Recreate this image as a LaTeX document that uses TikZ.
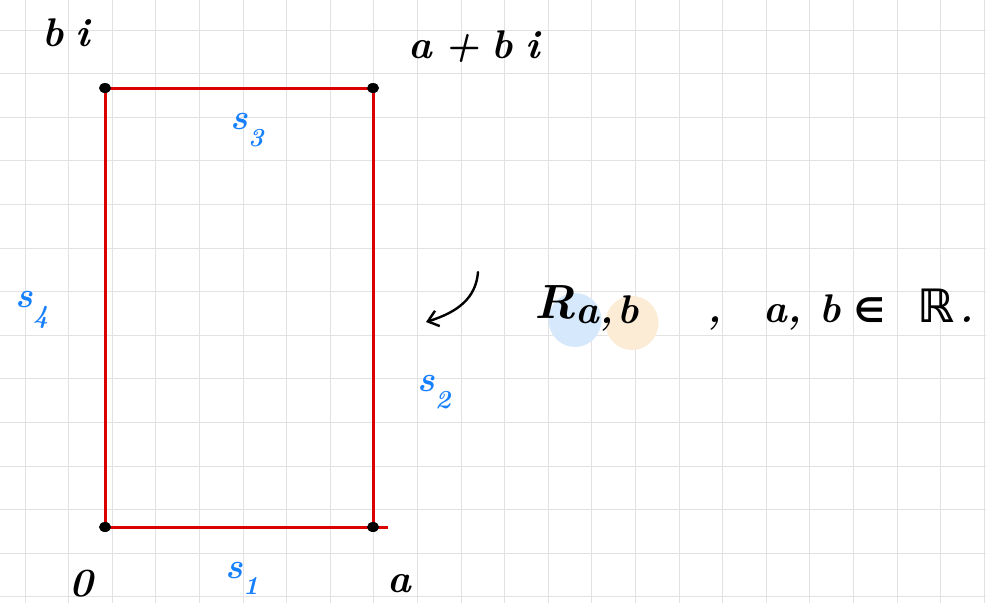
\documentclass[tikz,border=0pt]{standalone}
\usepackage{fontspec}
\newfontfamily\symfont{DejaVu Sans}
\usetikzlibrary{arrows.meta,shapes.geometric}
\definecolor{gridgray}{RGB}{226,226,226}
\definecolor{rectred}{RGB}{218,0,0}
\definecolor{lblblue}{RGB}{22,128,255}
\definecolor{hlblue}{RGB}{214,232,251}
\definecolor{hlorange}{RGB}{252,236,214}
\newcommand{\sbs}[1]{\raisebox{-0.45em}{\fontsize{26}{30}\selectfont #1}}
\tikzset{
  gridline/.style={draw=gridgray, line width=1pt},
  redline/.style={draw=rectred, line width=3pt},
  corner/.style={ellipse, fill=black, minimum width=12pt, minimum height=10pt, inner sep=0pt},
  blacktext/.style={text=black, font=\fontsize{40}{46}\selectfont\bfseries\itshape, inner sep=0pt},
  bluetext/.style={text=lblblue, font=\fontsize{36}{42}\selectfont\bfseries\itshape, inner sep=0pt},
  hl/.style={draw=none, ellipse, minimum width=53pt, minimum height=54pt, inner sep=0pt},
}
\begin{document}
\begin{tikzpicture}[x=1pt,y=-1pt]
\useasboundingbox (0,0) rectangle (986,603);
\fill[white] (0,0) rectangle (986,603);
\foreach \i in {0,...,22} \draw[gridline] ({25+43.6*\i},0) -- ({25+43.6*\i},603);
\foreach \j in {0,...,13} \draw[gridline] (0,{30+43.6*\j}) -- (986,{30+43.6*\j});

% highlights
\node[hl, fill=hlblue] (hlb) at (575,320) {};
\node[hl, fill=hlorange] (hlo) at (632,323) {};

% rectangle
\coordinate (O) at (105,527);
\coordinate (A) at (373,527);
\coordinate (C) at (373,88);
\coordinate (B) at (105,88);
\coordinate (Aext) at (388,527);
\draw[redline] (B) -- (O) -- (Aext);
\draw[redline] (A) -- (C) -- (B);
\node[corner] (dO) at (O) {};
\node[corner] (dA) at (A) {};
\node[corner] (dC) at (C) {};
\node[corner] (dB) at (B) {};

% corner labels
\node[blacktext] (lB) at (66,33) {b\hspace{0.3em}i};
\node[blacktext] (lC) at (474,47) {a\hspace{0.3em}+\hspace{0.3em}b\hspace{0.3em}i};
\node[blacktext] (lO) at (81,584) {0};
\node[blacktext] (lA) at (399,584) {a};

% side labels
\node[bluetext] (s3) at (247,130) {s\sbs{3}};
\node[bluetext] (s4) at (32,310) {s\sbs{4}};
\node[bluetext] (s2) at (434,392) {s\sbs{2}};
\node[bluetext] (s1) at (242,578) {s\sbs{1}};

% R_{a,b}
\node[text=black, font=\fontsize{48}{54}\selectfont\bfseries\itshape, anchor=base west, inner sep=0pt] (R) at (534,318) {R\raisebox{-0.12em}{\fontsize{40}{44}\selectfont a,\hspace{0.1em}b}};
\node[text=black, font=\fontsize{40}{46}\selectfont\bfseries\itshape, anchor=base west, inner sep=0pt] (cond) at (707,322) {,\hspace{1.05em}a,\hspace{0.45em}b\hspace{0.35em}{\upshape\symfont\fontsize{34}{40}\selectfont ∈}\hspace{0.8em}{\upshape\symfont\fontsize{46}{50}\selectfont ℝ}\hspace{0.15em}.};

% arrow
\coordinate (arrS) at (478,272);
\coordinate (arrE) at (426,322);
\draw[line width=2.4pt, line cap=round, -{Straight Barb[length=10pt,width=16pt]}] (arrS) .. controls (476,298) and (458,312) .. (arrE);
\end{tikzpicture}
\end{document}
